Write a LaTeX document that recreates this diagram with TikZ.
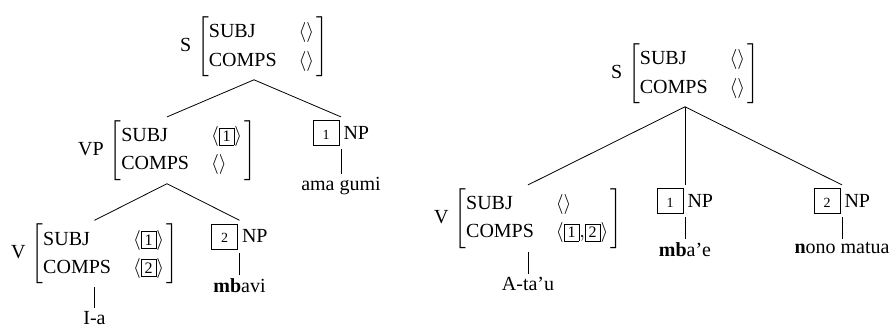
\documentclass[tikz,border=0pt]{standalone}
\usepackage{fontspec}
\setmainfont{Liberation Serif}
\delimitershortfall=2pt

% feature structure with a category label
\newcommand{\avm}[3]{#1\hspace{3pt}$\left[\renewcommand{\arraystretch}{1.17}%
  \begin{tabular}{@{}l@{\hspace{11pt}}l@{\hspace{1pt}}}
  SUBJ & $\langle#2\rangle$\\
  COMPS & $\langle#3\rangle$
  \end{tabular}\right]$\hspace{5pt}}
% boxed tags
\newcommand{\tagbox}[1]{{\setlength{\fboxsep}{1.5pt}\fbox{\footnotesize #1}}}
\newcommand{\np}[1]{{\setlength{\fboxsep}{0pt}\fbox{\makebox[12.5pt]{\rule[-3pt]{0pt}{12pt}\scriptsize #1}}}\hspace{2pt}NP}

\begin{document}
\begin{tikzpicture}[x=1pt,y=1pt,
  every node/.style={anchor=north,inner sep=1.5pt},
  edge from parent path={(\tikzparentnode.south) -- (\tikzchildnode.north)}]
\useasboundingbox (0,0) rectangle (446.5,-163.5);

% left tree
\begin{scope}[level 1/.style={level distance=35.25pt,sibling distance=87pt},
  level 2/.style={level distance=35pt,sibling distance=72.5pt}]
\node (s1) at (127,-6.5) {\avm{S}{}{}}
child { node (vp) {\avm{VP}{\tagbox{1}}{}}
  child { node (v1) {\avm{V}{\tagbox{1}}{\tagbox{2}}}
    child[level distance=27pt] { node (ia) {I-a}} }
  child { node (np2) {\np{2}}
    child[level distance=19.25pt] { node (mbavi) {\textbf{mb}avi}} } }
child { node (np1) {\np{1}}
  child[level distance=20.5pt] { node (amagumi) {ama gumi}} };
\end{scope}

% right tree
\begin{scope}[level 1/.style={level distance=55.75pt,sibling distance=78.5pt}]
\node (s2) at (342.5,-20) {\avm{S}{}{}}
child { node (v2) {\avm{V}{}{\tagbox{1}{,}\tagbox{2}}}
  child[level distance=27.75pt] { node (atau) {A-ta'u}} }
child { node (np3) {\np{1}}
  child[level distance=19pt] { node (mbae) {\textbf{mb}a'e}} }
child { node (np4) {\np{2}}
  child[level distance=19pt] { node (nono) {\textbf{n}ono matua}} };
\end{scope}
\end{tikzpicture}
\end{document}
